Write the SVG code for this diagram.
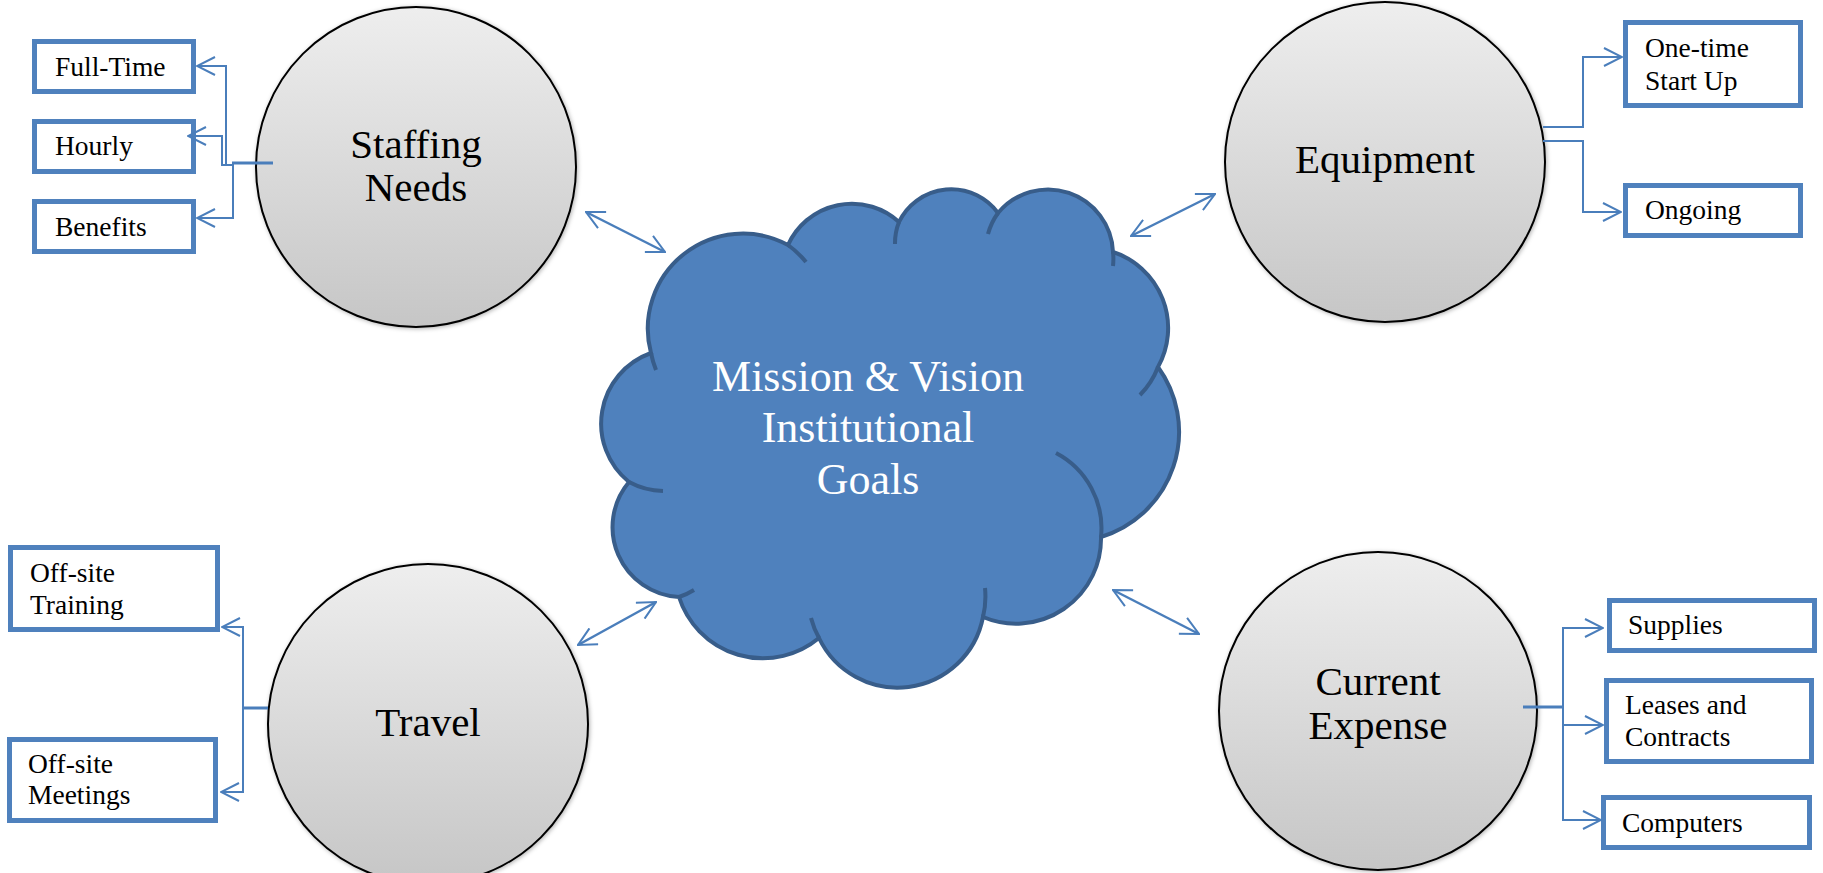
<svg xmlns="http://www.w3.org/2000/svg" width="1823" height="873" viewBox="0 0 1823 873">
<defs>
<linearGradient id="gray" x1="0" y1="0" x2="0" y2="1">
<stop offset="0" stop-color="#eeeeee"/>
<stop offset="1" stop-color="#c6c6c6"/>
</linearGradient>
<filter id="sh" x="-10%" y="-10%" width="120%" height="120%">
<feDropShadow dx="1" dy="1" stdDeviation="2" flood-color="#000" flood-opacity="0.3"/>
</filter>
<marker id="ah" viewBox="0 0 20 20" refX="19" refY="10" markerWidth="20" markerHeight="20" markerUnits="userSpaceOnUse" orient="auto-start-reverse">
<path d="M1,1 L19,10 L1,19" fill="none" stroke="#4a7ebb" stroke-width="2"/>
</marker>
</defs>
<style>
.circ{fill:url(#gray);stroke:#000;stroke-width:2;filter:url(#sh)}
.box{fill:#fff;stroke:#4f81bd;stroke-width:5}
.lbl{font-family:"Liberation Serif","Times New Roman",serif;font-size:41px;fill:#000;text-anchor:middle}
.btx{font-family:"Liberation Serif","Times New Roman",serif;font-size:27.5px;fill:#000}
.ctx{font-family:"Liberation Serif","Times New Roman",serif;font-size:44px;fill:#fff;text-anchor:middle}
.con{fill:none;stroke:#4a7ebb;stroke-width:2}
.stub{fill:none;stroke:#4a7ebb;stroke-width:3}
.dbl{fill:none;stroke:#4a7ebb;stroke-width:2.5;marker-start:url(#ah);marker-end:url(#ah)}
.cloud{fill:#4f81bd;stroke:#385d8a;stroke-width:4}
.inner{fill:none;stroke:#385d8a;stroke-width:4}
</style>
<rect width="1823" height="873" fill="#fff"/>

<g id="cloud">
<path class="cloud" d="M651,353 A95,95 0 0 1 788,245 A70,70 0 0 1 899,222 A58,58 0 0 1 998,213 A65,65 0 0 1 1113,252 A80,80 0 0 1 1158,367 A110,110 0 0 1 1101,537 A85,85 0 0 1 983,617 A87,87 0 0 1 819,638 A88,88 0 0 1 679,597 A70,70 0 0 1 629,482 A75,75 0 0 1 651,353 Z"/>
<path class="inner" d="M788,245 A95,95 0 0 1 806,262 M899,222 A58,58 0 0 0 895,244 M998,213 A65,65 0 0 0 988,234 M1113,252 A65,65 0 0 1 1113,266 M1158,367 A80,80 0 0 1 1140,395 M1101,537 A85,85 0 0 0 1056,453 M983,617 A87,87 0 0 0 985,588 M819,638 A87,87 0 0 1 811,618 M679,597 A70,70 0 0 0 694,590 M629,482 A75,75 0 0 0 663,491 M651,353 A95,95 0 0 0 656,370"/>
<text class="ctx" x="868" y="391">Mission &amp; Vision</text>
<text class="ctx" x="868" y="442">Institutional</text>
<text class="ctx" x="868" y="494">Goals</text>
</g>

<g id="staffing">
<circle class="circ" cx="416" cy="167" r="160"/>
<text class="lbl" x="416" y="158">Staffing</text>
<text class="lbl" x="416" y="201">Needs</text>
</g>
<g id="equipment">
<circle class="circ" cx="1385" cy="162" r="160"/>
<text class="lbl" x="1385" y="173">Equipment</text>
</g>
<g id="travel">
<circle class="circ" cx="428" cy="724" r="160"/>
<text class="lbl" x="428" y="736">Travel</text>
</g>
<g id="current-expense">
<circle class="circ" cx="1378" cy="711" r="159"/>
<text class="lbl" x="1378" y="695">Current</text>
<text class="lbl" x="1378" y="739">Expense</text>
</g>

<g id="full-time"><rect class="box" x="34.5" y="41.5" width="159" height="50"/><text class="btx" x="55" y="76">Full-Time</text></g>
<g id="hourly"><rect class="box" x="34.5" y="121.5" width="159" height="50"/><text class="btx" x="55" y="155">Hourly</text></g>
<g id="benefits"><rect class="box" x="34.5" y="201.5" width="159" height="50"/><text class="btx" x="55" y="236">Benefits</text></g>

<g id="one-time"><rect class="box" x="1625.5" y="22.5" width="175" height="83"/><text class="btx" x="1645" y="57">One-time</text><text class="btx" x="1645" y="90">Start Up</text></g>
<g id="ongoing"><rect class="box" x="1625.5" y="185.5" width="175" height="50"/><text class="btx" x="1645" y="219">Ongoing</text></g>

<g id="off-site-training"><rect class="box" x="10.5" y="547.5" width="207" height="82"/><text class="btx" x="30" y="582">Off-site</text><text class="btx" x="30" y="614">Training</text></g>
<g id="off-site-meetings"><rect class="box" x="9.5" y="739.5" width="206" height="81"/><text class="btx" x="28" y="773">Off-site</text><text class="btx" x="28" y="804">Meetings</text></g>

<g id="supplies"><rect class="box" x="1609.5" y="600.5" width="205" height="50"/><text class="btx" x="1628" y="634">Supplies</text></g>
<g id="leases"><rect class="box" x="1606.5" y="680.5" width="205" height="81"/><text class="btx" x="1625" y="714">Leases and</text><text class="btx" x="1625" y="746">Contracts</text></g>
<g id="computers"><rect class="box" x="1603.5" y="797.5" width="206" height="50"/><text class="btx" x="1622" y="832">Computers</text></g>

<g id="connectors">
<path class="dbl" d="M586,212 L665,252"/>
<path class="dbl" d="M1131,236 L1215,194"/>
<path class="dbl" d="M578,645 L656,602"/>
<path class="dbl" d="M1113,590 L1199,634"/>

<path class="stub" d="M273,163 H232"/>
<path class="con" d="M233,165 H226 V66 H197" marker-end="url(#ah)"/>
<path class="con" d="M233,165 H222 V136 H188" marker-end="url(#ah)"/>
<path class="con" d="M233,163 V218 H197" marker-end="url(#ah)"/>

<path class="con" d="M1543,127 H1583 V57 H1622" marker-end="url(#ah)"/>
<path class="con" d="M1543,141 H1583 V212 H1621" marker-end="url(#ah)"/>

<path class="stub" d="M268,708 H242"/>
<path class="con" d="M243,708 V627 H222" marker-end="url(#ah)"/>
<path class="con" d="M243,708 V792 H221" marker-end="url(#ah)"/>

<path class="stub" d="M1523,707 H1564"/>
<path class="con" d="M1563,707 V628 H1603" marker-end="url(#ah)"/>
<path class="con" d="M1563,707 V725 H1603" marker-end="url(#ah)"/>
<path class="con" d="M1563,707 V820 H1601" marker-end="url(#ah)"/>
</g>
</svg>
